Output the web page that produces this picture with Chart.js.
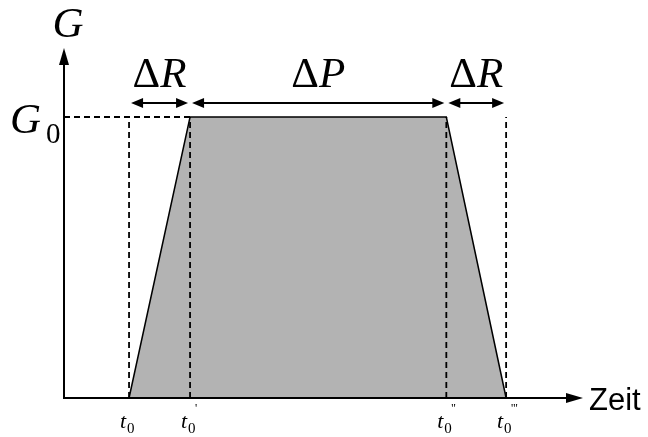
<!DOCTYPE html>
<html>
<head>
<meta charset="utf-8">
<script src="https://cdn.jsdelivr.net/npm/chart.js@4.4.1/dist/chart.umd.min.js"></script>
<style>
  html, body { margin: 0; padding: 0; background: #fff; }
  #wrap { width: 648px; height: 437px; }
</style>
</head>
<body>
<div id="wrap"><canvas id="c" width="648" height="437"></canvas></div>
<script>
// corner times of the pulse (t0, t0', t0'', t0''') and the value G at each
const times = [0, 1, 5.2, 6.18];
const level = [0, 1, 1, 0];
const G0 = 1;
// primes shown above the subscript of each tick label
const primes = ["", "'", "''", "'''"];
// spans marked with double arrows: [from index, to index, label]
const spans = [[0, 1, "R"], [1, 2, "P"], [2, 3, "R"]];

const xMin = -1.066, xMax = 7.44, yMax = 1.2456;

function arrowHead(ctx, x, y, dx, dy, len, half) {
  const px = -dy, py = dx;
  ctx.beginPath();
  ctx.moveTo(x, y);
  ctx.lineTo(x - dx * len + px * half, y - dy * len + py * half);
  ctx.lineTo(x - dx * len - px * half, y - dy * len - py * half);
  ctx.closePath();
  ctx.fill();
}

const decor = {
  id: 'decor',
  afterDraw(chart) {
    const ctx = chart.ctx;
    const a = chart.chartArea;
    const xs = chart.scales.x, ys = chart.scales.y;
    ctx.save();
    ctx.fillStyle = '#000';
    ctx.strokeStyle = '#000';

    // axes
    ctx.lineWidth = 2;
    ctx.beginPath();
    ctx.moveTo(a.left, a.top + 14);
    ctx.lineTo(a.left, a.bottom);
    ctx.lineTo(a.right - 14, a.bottom);
    ctx.stroke();
    arrowHead(ctx, a.left, a.top, 0, -1, 17, 5);
    arrowHead(ctx, a.right, a.bottom, 1, 0, 17, 5);

    // span arrows
    const yA = ys.getPixelForValue(G0) - 14;
    ctx.lineWidth = 2;
    spans.forEach(s => {
      const x1 = xs.getPixelForValue(times[s[0]]) + 2;
      const x2 = xs.getPixelForValue(times[s[1]]) - 2;
      ctx.beginPath();
      ctx.moveTo(x1 + 8, yA);
      ctx.lineTo(x2 - 8, yA);
      ctx.stroke();
      arrowHead(ctx, x1, yA, -1, 0, 12, 5);
      arrowHead(ctx, x2, yA, 1, 0, 12, 5);
      // label: upright delta, italic letter
      const cx = (x1 + x2) / 2;
      ctx.font = '43px "Liberation Serif"';
      const wd = ctx.measureText('\u0394').width;
      ctx.font = 'italic 43px "Liberation Serif"';
      const wl = ctx.measureText(s[2]).width;
      const x0 = cx - (wd + wl) / 2;
      ctx.textBaseline = 'alphabetic';
      ctx.textAlign = 'left';
      ctx.font = '43px "Liberation Serif"';
      ctx.fillText('\u0394', x0, yA - 16);
      ctx.font = 'italic 43px "Liberation Serif"';
      ctx.fillText(s[2], x0 + wd, yA - 16);
    });

    // axis titles
    ctx.textAlign = 'center';
    ctx.font = 'italic 43px "Liberation Serif"';
    ctx.fillText('G', a.left + 4, 37);
    ctx.textAlign = 'left';
    const yG = ys.getPixelForValue(G0);
    ctx.fillText('G', 10, yG + 16);
    ctx.font = '29px "Liberation Serif"';
    ctx.fillText('0', 46, yG + 26);

    ctx.font = '31px "Liberation Sans"';
    ctx.fillText('Zeit', a.right + 6, a.bottom + 12);

    // tick labels t0, t0', ...
    times.forEach((t, i) => {
      const x = xs.getPixelForValue(t);
      ctx.font = 'italic 22px "Liberation Serif"';
      ctx.fillText('t', x - 9, 428);
      ctx.font = '15px "Liberation Serif"';
      ctx.fillText('0', x - 2, 433);
      if (primes[i]) {
        ctx.font = '12px "Liberation Serif"';
        ctx.fillText(primes[i], x + 5, 412);
      }
    });
    ctx.restore();
  }
};

// dashed guide lines: verticals at every corner time, horizontal at G0
const guide = [];
times.forEach(t => {
  guide.push({x: t, y: 0}, {x: t, y: G0}, {x: t, y: null});
});
guide.push({x: xMin, y: G0}, {x: times[1], y: G0});

new Chart(document.getElementById('c'), {
  type: 'line',
  data: {
    datasets: [
      {
        data: guide,
        borderColor: '#000',
        borderWidth: 1.8,
        borderDash: [6, 4],
        pointRadius: 0,
        fill: false,
        spanGaps: false,
        clip: false,
        order: 0
      },
      {
        data: times.map((t, i) => ({x: t, y: level[i]})),
        borderColor: '#000',
        borderWidth: 1.5,
        backgroundColor: '#b3b3b3',
        pointRadius: 0,
        fill: 'origin',
        tension: 0,
        clip: false,
        order: 1
      }
    ]
  },
  options: {
    responsive: false,
    animation: false,
    devicePixelRatio: 1,
    layout: { padding: { left: 64, right: 65, top: 48, bottom: 39 } },
    scales: {
      x: { type: 'linear', min: xMin, max: xMax, display: false },
      y: { type: 'linear', min: 0, max: yMax, display: false }
    },
    plugins: {
      legend: { display: false },
      tooltip: { enabled: false }
    }
  },
  plugins: [decor]
});
</script>
</body>
</html>
